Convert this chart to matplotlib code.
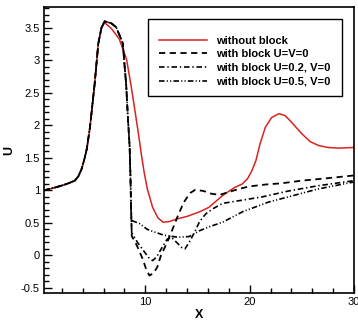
import numpy as np
import matplotlib.pyplot as plt
from matplotlib.patches import Rectangle
from matplotlib.ticker import MultipleLocator, FormatStrFormatter

plt.rcParams['font.family'] = ['Liberation Sans', 'DejaVu Sans']
plt.rcParams['lines.scale_dashes'] = False

# --- дані ---
# спільна ділянка (всі криві з блоком збігаються до x ~ 8.6)
x_common = [0.3, 1.5, 2.5, 3.25, 3.6, 3.9, 4.15, 4.4, 4.7, 5.15, 5.5, 5.8, 6.1,
            6.75, 7.2, 7.55, 7.85, 8.0, 8.17, 8.33, 8.5, 8.58]
y_common = [1.0, 1.05, 1.1, 1.15, 1.22, 1.33, 1.47, 1.64, 1.97, 2.64, 3.26,
            3.5, 3.6, 3.57, 3.51, 3.38, 3.26, 2.95, 2.62, 2.13, 1.67, 1.2]

# without block
x_red = [0.3, 1.5, 2.5, 3.25, 3.6, 3.9, 4.15, 4.4, 4.7, 5.15, 5.5, 5.8, 6.1,
         6.75, 7.5, 8.2, 8.65, 9.3, 9.6, 9.9, 10.2, 10.7, 11.2, 11.7, 12.3,
         13.0, 14.0, 15.2, 16.1, 17.4, 18.5, 19.3, 19.8, 20.2, 20.6, 21.0,
         21.5, 22.1, 22.8, 23.4, 24.0, 25.0, 25.8, 26.6, 27.5, 28.5, 30.0]
y_red = [1.0, 1.05, 1.1, 1.15, 1.22, 1.33, 1.47, 1.64, 1.97, 2.64, 3.26, 3.5,
         3.58, 3.49, 3.33, 3.02, 2.6, 1.92, 1.58, 1.27, 1.02, 0.74, 0.58, 0.51,
         0.52, 0.56, 0.6, 0.67, 0.74, 0.92, 1.04, 1.1, 1.18, 1.3, 1.46, 1.72,
         1.97, 2.12, 2.18, 2.15, 2.05, 1.87, 1.75, 1.69, 1.66, 1.65, 1.66]

# with block U=V=0 (хвіст після розходження)
x_b0 = [8.7, 9.2, 9.74, 10.1, 10.4, 10.8, 11.15, 11.5, 12.1, 12.75, 13.2, 13.7,
        14.3, 14.8, 15.6, 16.3, 17.1, 18.5, 19.9, 21.5, 23.1, 25.0, 27.0, 30.0]
y_b0 = [0.3, 0.15, -0.05, -0.22, -0.31, -0.27, -0.18, 0.0, 0.2, 0.46, 0.64,
        0.82, 0.96, 1.01, 0.99, 0.95, 0.93, 1.0, 1.06, 1.09, 1.11, 1.15, 1.18,
        1.23]

# with block U=0.2, V=0
x_b2 = [8.7, 9.25, 9.8, 10.3, 10.7, 11.1, 11.6, 12.1, 12.5, 13.0, 13.5, 13.8,
        14.2, 14.7, 15.2, 15.8, 16.5, 17.4, 19.3, 21.2, 23.7, 26.5, 30.0]
y_b2 = [0.35, 0.2, 0.08, -0.03, -0.08, -0.02, 0.12, 0.25, 0.28, 0.2, 0.12,
        0.1, 0.2, 0.35, 0.52, 0.64, 0.72, 0.8, 0.85, 0.9, 0.99, 1.07, 1.15]

# with block U=0.5, V=0
x_b5 = [8.65, 9.44, 10.2, 10.7, 11.8, 13.1, 14.2, 15.2, 16.3, 17.4, 19.3,
        21.8, 23.7, 26.5, 30.0]
y_b5 = [0.54, 0.49, 0.4, 0.37, 0.31, 0.28, 0.29, 0.38, 0.45, 0.51, 0.67,
        0.82, 0.9, 1.02, 1.13]

labels = ['without block', 'with block U=V=0', 'with block U=0.2, V=0',
          'with block U=0.5, V=0']

fig = plt.figure(figsize=(3.58, 3.2), dpi=100)
ax = fig.add_axes([0.123, 0.084, 0.866, 0.894])

ax.plot(x_red, y_red, color='#d9231f', lw=1.1, label=labels[0])
ax.plot(x_common + x_b0, y_common + y_b0, color='black', lw=1.3,
        dashes=(4.5, 3.2), label=labels[1])
ax.plot(x_common + x_b2, y_common + y_b2, color='black', lw=1.2,
        dashes=(4.0, 2.0, 1.0, 2.0), label=labels[2])
ax.plot(x_common + x_b5, y_common + y_b5, color='black', lw=1.2,
        dashes=(4.0, 1.6, 0.8, 1.6, 0.8, 1.6), label=labels[3])

ax.set_xlim(0.3, 30)
ax.set_ylim(-0.58, 3.82)
ax.xaxis.set_major_locator(MultipleLocator(10))
ax.xaxis.set_minor_locator(MultipleLocator(2))
ax.yaxis.set_major_locator(MultipleLocator(0.5))
ax.yaxis.set_minor_locator(MultipleLocator(0.1))
ax.yaxis.set_major_formatter(FormatStrFormatter('%g'))
ax.tick_params(which='both', direction='in', top=False, right=False,
               labelsize=8, width=1.0, pad=3)
ax.tick_params(which='major', length=6)
ax.tick_params(which='minor', length=3.5)
for s in ax.spines.values():
    s.set_linewidth(1.2)

ax.set_xlabel('X', fontsize=9, fontweight='bold', labelpad=1)
ax.set_ylabel('U', fontsize=9, fontweight='bold', labelpad=4)

# рамка легенди окремо (вертикальні відступи більші за горизонтальні)
frame = Rectangle((148 / 358, 1 - 96 / 320), 194 / 358, 77 / 320,
                  transform=fig.transFigure, facecolor='white',
                  edgecolor='black', lw=1.0, zorder=5, clip_on=False)
ax.add_patch(frame)
leg = ax.legend(loc='upper left', bbox_to_anchor=(159 / 358, 1 - 35.5 / 320),
                bbox_transform=fig.transFigure, frameon=False,
                handlelength=4.3, handletextpad=0.8, labelspacing=0.33,
                borderpad=0, borderaxespad=0,
                prop={'weight': 'bold', 'size': 8})
leg.set_zorder(6)

fig.savefig('out.png', dpi=100)
